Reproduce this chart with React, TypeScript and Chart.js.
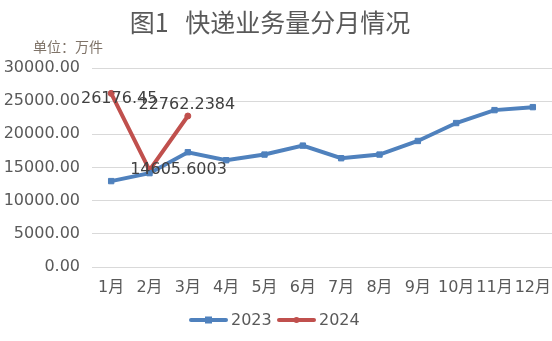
import React, { useEffect, useRef } from "react";
import { Chart, registerables } from "chart.js";

Chart.register(...registerables);

const months = ["1月", "2月", "3月", "4月", "5月", "6月", "7月", "8月", "9月", "10月", "11月", "12月"];
const values2023 = [12950, 14150, 17300, 16100, 16950, 18300, 16400, 16950, 19000, 21700, 23650, 24100];
const values2024 = [26176.45, 14605.6003, 22762.2384];
const labels2024 = ["26176.45", "14605.6003", "22762.2384"];
const yTicks = [0, 5000, 10000, 15000, 20000, 25000, 30000];

const titleText = "图1   快递业务量分月情况";
const unitText = "单位：万件";

const labelOffsets = [
  [8, 5],
  [29, 0],
  [-1, -11],
];

const decorPlugin = {
  id: "decor",
  afterDraw(chart: any) {
    const ctx = chart.ctx;
    ctx.save();
    ctx.fillStyle = "#595959";
    ctx.font = '25px "Noto Sans CJK SC"';
    ctx.textAlign = "center";
    ctx.textBaseline = "middle";
    ctx.fillText(titleText, 270, 22);
    ctx.fillStyle = "#7f7368";
    ctx.font = '14px "Noto Sans CJK SC"';
    ctx.textAlign = "left";
    ctx.fillText(unitText, 33, 47);

    const meta = chart.getDatasetMeta(1);
    ctx.fillStyle = "#404040";
    ctx.font = '16px "DejaVu Sans"';
    ctx.textAlign = "center";
    ctx.textBaseline = "middle";
    meta.data.forEach((pt: any, i: number) => {
      const off = labelOffsets[i] || [0, 0];
      ctx.fillText(labels2024[i], pt.x + off[0], pt.y + off[1]);
    });

    // legend
    const ly = 320;
    const items = [
      { x: 189, ds: chart.data.datasets[0], style: "rect" },
      { x: 277, ds: chart.data.datasets[1], style: "circle" },
    ];
    items.forEach((it) => {
      const c = it.ds.borderColor;
      ctx.strokeStyle = c;
      ctx.fillStyle = c;
      ctx.lineWidth = 4;
      ctx.lineCap = "round";
      ctx.beginPath();
      ctx.moveTo(it.x + 2, ly);
      ctx.lineTo(it.x + 37, ly);
      ctx.stroke();
      const cx = it.x + 19.5;
      if (it.style === "rect") {
        ctx.fillRect(cx - 3.5, ly - 3.5, 7, 7);
      } else {
        ctx.beginPath();
        ctx.arc(cx, ly, 3, 0, Math.PI * 2);
        ctx.fill();
      }
      ctx.fillStyle = "#595959";
      ctx.font = '16px "DejaVu Sans"';
      ctx.textAlign = "left";
      ctx.textBaseline = "middle";
      ctx.fillText(it.ds.label, it.x + 42, ly + 1);
    });
    ctx.restore();
  },
};

export default function App() {
  const ref = useRef<HTMLCanvasElement | null>(null);
  useEffect(() => {
    if (!ref.current) return;
    const chart = new Chart(ref.current, {
      type: "line",
      data: {
        labels: months,
        datasets: [
          {
            label: "2023",
            data: values2023,
            borderColor: "#4F81BD",
            backgroundColor: "#4F81BD",
            borderWidth: 4,
            pointStyle: "rect",
            pointRadius: 3.8,
            pointBorderWidth: 1,
            tension: 0,
          },
          {
            label: "2024",
            data: values2024,
            borderColor: "#C0504D",
            backgroundColor: "#C0504D",
            borderWidth: 4,
            pointStyle: "circle",
            pointRadius: 3,
            pointBorderWidth: 1,
            tension: 0,
          },
        ],
      },
      options: {
        animation: false,
        responsive: true,
        maintainAspectRatio: false,
        layout: { autoPadding: false, padding: { top: 68, left: 0, right: 0, bottom: 39 } },
        plugins: {
          title: { display: false },
          tooltip: { enabled: false },
          legend: { display: false },
        },
        scales: {
          x: {
            offset: true,
            grid: { display: false, drawTicks: false, offset: true },
            border: { display: false },
            ticks: {
              color: "#595959",
              font: { family: '"DejaVu Sans", "Noto Sans CJK SC"', size: 16 },
              padding: 11,
              maxRotation: 0,
              autoSkip: false,
            },
            afterFit: (s: any) => {
              s.height = 35;
              s.paddingLeft = 0;
              s.paddingRight = 0;
            },
          },
          y: {
            min: 0,
            max: 30000,
            afterBuildTicks: (s: any) => {
              s.ticks = yTicks.map((v) => ({ value: v }));
            },
            grid: { color: "#d9d9d9", drawTicks: false, lineWidth: 1 },
            border: { display: false },
            ticks: {
              color: "#595959",
              font: { family: '"DejaVu Sans"', size: 16 },
              padding: 12,
              callback: (v: any) => Number(v).toFixed(2),
            },
            afterFit: (s: any) => {
              s.width = 92;
              s.paddingTop = 0;
              s.paddingBottom = 0;
            },
          },
        },
      },
      plugins: [decorPlugin],
    });
    return () => chart.destroy();
  }, []);
  return (
    <div style={{ position: "absolute", left: 0, top: 0, width: 552, height: 341, background: "#fff" }}>
      <canvas ref={ref} />
    </div>
  );
}
